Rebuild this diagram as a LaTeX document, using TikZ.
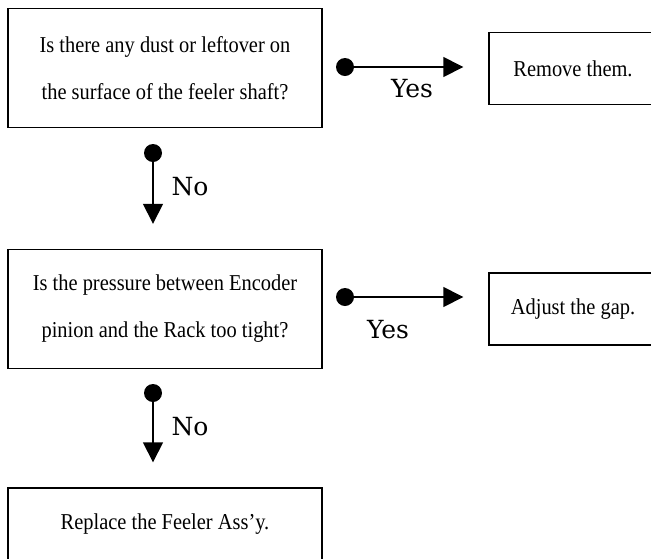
\documentclass[tikz,border=0pt]{standalone}
\usepackage{fontspec}
\setmainfont{Liberation Serif}
\newfontfamily\boxfont[FakeStretch=0.9, Ligatures=TeX]{Liberation Serif}
\newfontfamily\answerfont{DejaVu Serif}
\usetikzlibrary{arrows.meta,positioning}

\tikzset{
    askbox/.style={draw, line width=1.4pt, minimum width=314pt, minimum height=119pt,
        align=center, font=\boxfont\fontsize{22.7}{47}\selectfont},
    fixbox/.style={draw, line width=1.4pt, minimum width=168pt, minimum height=72pt,
        font=\boxfont\fontsize{22.7}{24}\selectfont},
    jointdot/.style={circle, fill, inner sep=0pt, minimum size=18pt},
    answer/.style={font=\answerfont\fontsize{25}{30}\selectfont},
    flow/.style={line width=1.5pt, -{Triangle[length=20pt,width=20pt]}, shorten >=25pt},
}

\begin{document}
\begin{tikzpicture}[x=1pt, y=-1pt]
    \useasboundingbox (0,0) rectangle (651,558);
    % Questions
    \node[askbox] (dust) at (165,68) {Is there any dust or leftover on\\the surface of the feeler shaft?};
    \node[askbox] (rack) at (165,309) {Is the pressure between Encoder\\pinion and the Rack too tight?};
    % Actions
    \node[fixbox] (remove) at (573,68.5) {Remove them.};
    \node[fixbox] (adjust) at (573,309) {Adjust the gap.};
    \node[fixbox, minimum width=314pt] (replace) at (165,524) {Replace the Feeler Ass’y.};
    % Branch points
    \node[jointdot] (dustyes) at (345,67) {};
    \node[jointdot] (dustno) at (153,153) {};
    \node[jointdot] (rackyes) at (345,297) {};
    \node[jointdot] (rackno) at (153,393) {};
    % Arrows
    \draw[flow] (dustyes) -- (dustyes -| remove.west);
    \draw[flow] (dustno) -- (dustno |- rack.north);
    \draw[flow] (rackyes) -- (rackyes -| adjust.west);
    \draw[flow] (rackno) -- (rackno |- replace.north);
    % Answers
    \node[answer] (yesdust) at (412,89) {Yes};
    \node[answer] (nodust) at (190,187) {No};
    \node[answer] (yesrack) at (388,330) {Yes};
    \node[answer] (norack) at (190,427) {No};
\end{tikzpicture}
\end{document}
